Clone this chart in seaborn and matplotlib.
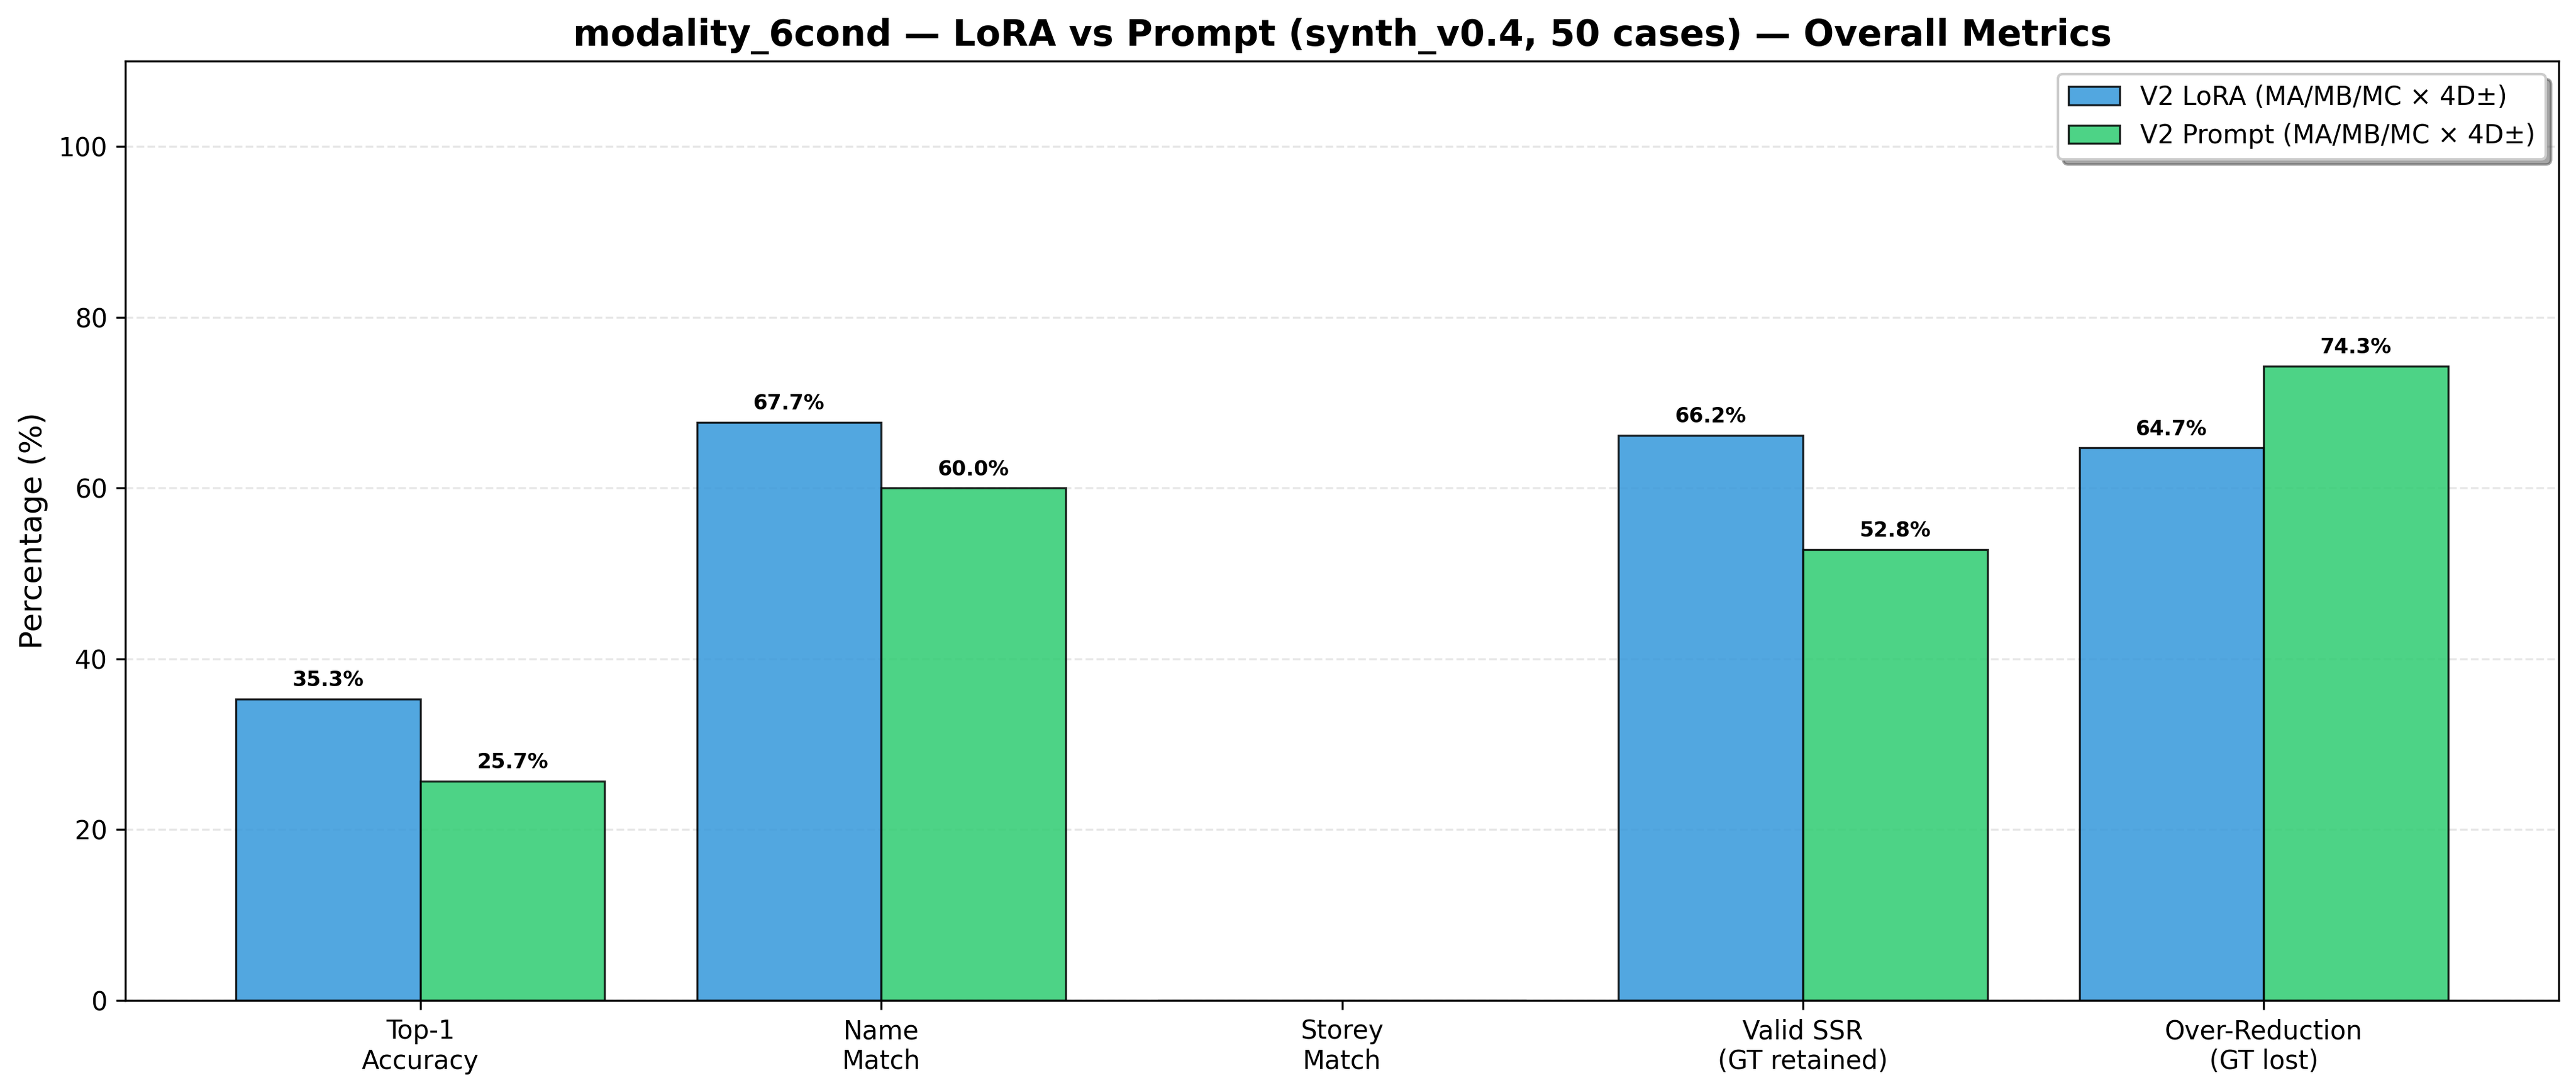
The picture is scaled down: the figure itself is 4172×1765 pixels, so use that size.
import matplotlib
matplotlib.use("Agg")
import matplotlib.pyplot as plt
import seaborn as sns
import pandas as pd

categories = ["Top-1\nAccuracy", "Name\nMatch", "Storey\nMatch", "Valid SSR\n(GT retained)", "Over-Reduction\n(GT lost)"]
series_names = ["V2 LoRA (MA/MB/MC × 4D±)", "V2 Prompt (MA/MB/MC × 4D±)"]
lora_values = [35.3, 67.7, 0.0, 66.2, 64.7]
prompt_values = [25.7, 60.0, 0.0, 52.8, 74.3]
colors = ["#3498db", "#2ecc71"]

rows = []
for c, v in zip(categories, lora_values):
    rows.append({"Metric": c, "Value": v, "Model": series_names[0]})
for c, v in zip(categories, prompt_values):
    rows.append({"Metric": c, "Value": v, "Model": series_names[1]})
df = pd.DataFrame(rows)

plt.rcParams["font.family"] = ["DejaVu Sans"]
fig = plt.figure(figsize=(4172 / 300, 1765 / 300), dpi=300)
ax = fig.add_axes([0.0487, 0.0822, 0.9933 - 0.0487, 0.9439 - 0.0822])

sns.barplot(data=df, x="Metric", y="Value", hue="Model", order=categories,
            hue_order=series_names, palette=colors, alpha=0.85, saturation=1,
            edgecolor="black", linewidth=0.8, width=0.8, errorbar=None, ax=ax)

for container in ax.containers:
    for bar in container:
        h = bar.get_height()
        if h > 0:
            ax.text(bar.get_x() + bar.get_width() / 2, h + 1, f"{h:.1f}%",
                    ha="center", va="bottom", fontsize=8, fontweight="bold")

n = len(categories)
pad = 0.05 * (n - 1 + 0.8)
ax.set_xlim(-0.4 - pad, n - 1 + 0.4 + pad)
ax.set_ylim(0, 110)
ax.set_xlabel("")
ax.set_ylabel("Percentage (%)", fontsize=12)
ax.set_title("modality_6cond — LoRA vs Prompt (synth_v0.4, 50 cases) — Overall Metrics",
             fontsize=14, fontweight="bold")
ax.tick_params(axis="both", labelsize=10)
ax.yaxis.grid(True, linestyle="--", alpha=0.3)
ax.set_axisbelow(True)
for s in ax.spines.values():
    s.set_visible(True)
    s.set_color("black")
ax.legend(loc="upper right", fontsize=10, frameon=True, fancybox=True, shadow=True)

fig.savefig("out.png", dpi=300)
